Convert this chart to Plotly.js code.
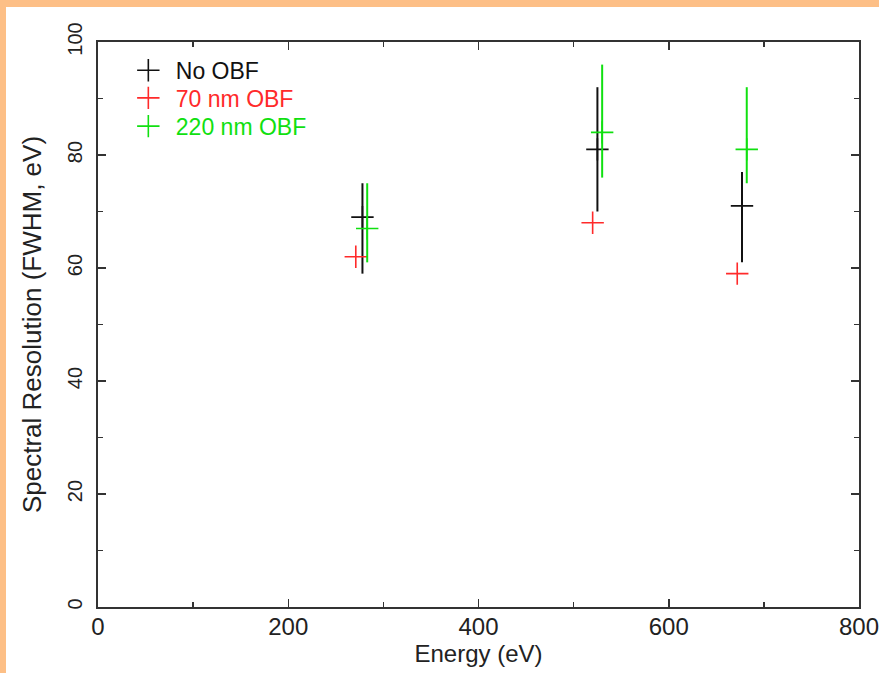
<!DOCTYPE html>
<html>
<head>
<meta charset="utf-8">
<script src="https://cdn.plot.ly/plotly-3.0.1.min.js"></script>
<style>
  html, body { margin:0; padding:0; background:#fdbf86; width:879px; height:673px; overflow:hidden; }
  #chart { position:absolute; left:6px; top:7px; width:873px; height:666px; background:#fff; }
</style>
</head>
<body>
<div id="chart"></div>
<script>
// Series: No OBF
const noObfX = [278, 525, 677];
const noObfY = [69, 81, 71];
const noObfErrPlus = [6, 11, 6];
const noObfErrMinus = [10, 11, 10];

// Series: 70 nm OBF
const obf70X = [271, 520, 672];
const obf70Y = [62, 68, 59];

// Series: 220 nm OBF
const obf220X = [283, 530, 682];
const obf220Y = [67, 84, 81];
const obf220ErrPlus = [8, 12, 11];
const obf220ErrMinus = [6, 8, 6];

const seriesNames = ['No OBF', '70 nm OBF', '220 nm OBF'];
const seriesColors = ['#111111', '#ff2a2a', '#10e010'];

const FONT = 'Liberation Sans, Arial, Helvetica, sans-serif';
const markerStyle = (c) => ({ symbol: 'cross-thin', size: 16, line: { color: c, width: 1.6 }, color: c });
const label = (i) => '<span style="color:' + seriesColors[i] + '">' + seriesNames[i] + '</span>';

const traces = [
  {
    x: noObfX, y: noObfY, type: 'scatter', mode: 'markers',
    name: label(0), legend: 'legend',
    marker: markerStyle(seriesColors[0]),
    error_y: { type: 'data', symmetric: false, array: noObfErrPlus, arrayminus: noObfErrMinus, color: seriesColors[0], thickness: 2, width: 0 }
  },
  {
    x: obf70X, y: obf70Y, type: 'scatter', mode: 'markers',
    name: label(1), legend: 'legend2',
    marker: markerStyle(seriesColors[1])
  },
  {
    x: obf220X, y: obf220Y, type: 'scatter', mode: 'markers',
    name: label(2), legend: 'legend3',
    marker: markerStyle(seriesColors[2]),
    error_y: { type: 'data', symmetric: false, array: obf220ErrPlus, arrayminus: obf220ErrMinus, color: seriesColors[2], thickness: 2, width: 0 }
  }
];

const axisCommon = {
  showgrid: false, zeroline: false, automargin: false,
  showline: true, linecolor: '#333', linewidth: 2, mirror: 'ticks',
  ticks: 'inside', ticklen: 8, tickwidth: 1.5, tickcolor: '#333',
  ticklabeloverflow: 'allow'
};

const legendBase = (yy) => ({
  x: 0.03, y: yy, xanchor: 'left', yanchor: 'middle',
  bgcolor: 'rgba(0,0,0,0)', borderwidth: 0,
  font: { family: FONT, size: 23, color: '#111' },
  itemwidth: 45
});

const layout = {
  width: 873, height: 666,
  margin: { l: 92, r: 20, t: 35, b: 66 },
  paper_bgcolor: '#ffffff', plot_bgcolor: '#ffffff',
  showlegend: true,
  legend: legendBase(0.950),
  legend2: legendBase(0.901),
  legend3: legendBase(0.851),
  xaxis: Object.assign({}, axisCommon, {
    range: [0, 800], dtick: 200, tick0: 0,
    tickfont: { family: FONT, size: 24, color: '#222' },
    ticklabelstandoff: -3,
    minor: { dtick: 100, ticks: 'inside', ticklen: 5, tickwidth: 1.5, tickcolor: '#333', showgrid: false },
    title: { text: 'Energy (eV)', font: { family: FONT, size: 24, color: '#222' }, standoff: 4 }
  }),
  yaxis: Object.assign({}, axisCommon, {
    range: [0, 100], dtick: 20, tick0: 0, tickangle: -90,
    tickfont: { family: FONT, size: 20, color: '#222' },
    ticklabelstandoff: 6,
    minor: { dtick: 10, ticks: 'inside', ticklen: 5, tickwidth: 1.5, tickcolor: '#333', showgrid: false },
    title: { text: 'Spectral Resolution (FWHM, eV)', font: { family: FONT, size: 26, color: '#222' }, standoff: 15 }
  })
};

Plotly.newPlot('chart', traces, layout, { displayModeBar: false, staticPlot: true });
</script>
</body>
</html>
